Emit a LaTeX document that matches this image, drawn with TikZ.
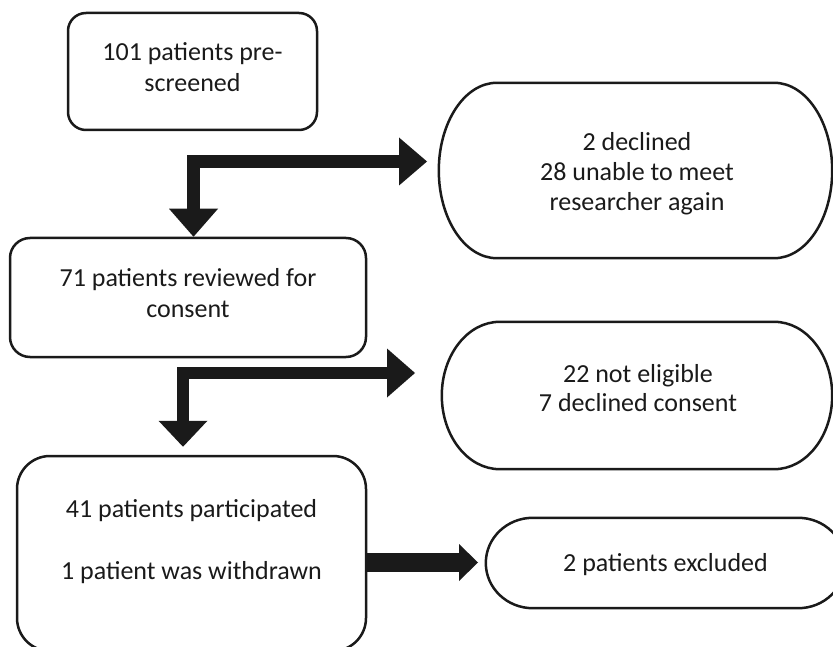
\documentclass[tikz,border=0pt]{standalone}
\usepackage{fontspec}
\setmainfont{Carlito}
\usetikzlibrary{arrows.meta,calc}
\definecolor{ink}{RGB}{26,26,26}
\newcommand\ovaloutline[2]{%
  \draw[outl] let \p1=(#1.north west), \p2=(#1.south east), \n1={(\y1-\y2)/2} in
    (\x1+#2pt,\y1) -- (\x2-#2pt,\y1)
    arc[start angle=90,end angle=-90,x radius=#2pt,y radius=\n1]
    -- (\x1+#2pt,\y2)
    arc[start angle=270,end angle=90,x radius=#2pt,y radius=\n1] -- cycle;}
\tikzset{
  txt/.style={align=center, inner sep=0pt, text=ink,
    font=\fontsize{26pt}{31pt}\selectfont},
  box/.style={draw=ink, line width=2.5pt, rounded corners=#1, inner sep=0pt},
  box/.default=20pt,
  ovalbox/.style={rectangle, inner sep=0pt},
  outl/.style={draw=ink, line width=2.5pt},
  blockarrow/.style={draw=ink, line width=#1, line join=miter},
}
\begin{document}
\begin{tikzpicture}[x=1pt,y=1pt]
\useasboundingbox (0,0) rectangle (833,-647);

% boxes
\node[box=18pt, minimum width=249pt, minimum height=117pt] (b1) at (192.5,-71.5) {};
\node[txt] (b1t) at ([yshift=4pt]b1.center) {101 patients pre-\\screened};

\node[box=20pt, minimum width=356pt, minimum height=119pt] (b2) at (188,-297.5) {};
\node[txt] (b2t) at ([yshift=4pt]b2.center) {71 patients reviewed for\\consent};

\node[box=33pt, minimum width=349pt, minimum height=195pt] (b3) at (191.5,-553.5) {};
\node[txt] (b3t) at (191.5,-542) {41 patients participated\\[31pt]1 patient was withdrawn};

% ovals
\node[ovalbox, minimum width=393pt, minimum height=175pt] (o1) at (635.5,-170.5) {};
\ovaloutline{o1}{58}
\node[txt, font=\fontsize{26pt}{30pt}\selectfont] (o1t) at (637,-173.5) {2 declined\\28 unable to meet\\researcher again};

\node[ovalbox, minimum width=390pt, minimum height=147pt] (o2) at (637,-395.5) {};
\ovaloutline{o2}{58}
\node[txt, font=\fontsize{26pt}{29pt}\selectfont] (o2t) at (638,-388.5) {22 not eligible\\7 declined consent};

\node[ovalbox, minimum width=359pt, minimum height=90pt] (o3) at (665.5,-563) {};
\ovaloutline{o3}{47}
\node[txt] (o3t) at (665.5,-565) {2 patients excluded};

% connectors
\coordinate (a1r) at (427,-161.5);
\draw[blockarrow=13pt, {Triangle[length=28pt,width=48pt,line width=0pt]}-{Triangle[length=28pt,width=49pt,line width=0pt]}]
  (a1r) -| ([xshift=5.5pt]b2.north);

\coordinate (a2r) at (415,-373);
\draw[blockarrow=12pt, {Triangle[length=28pt,width=49pt,line width=0pt]}-{Triangle[length=26pt,width=49pt,line width=0pt]}]
  (a2r) -| ([xshift=-8.5pt,yshift=8pt]b3.north);

\coordinate (a3) at (478,-562.5);
\draw[blockarrow=19pt, -{Triangle[length=19pt,width=37pt,line width=0pt]}]
  (b3.east |- a3) -- (a3);
\end{tikzpicture}
\end{document}
